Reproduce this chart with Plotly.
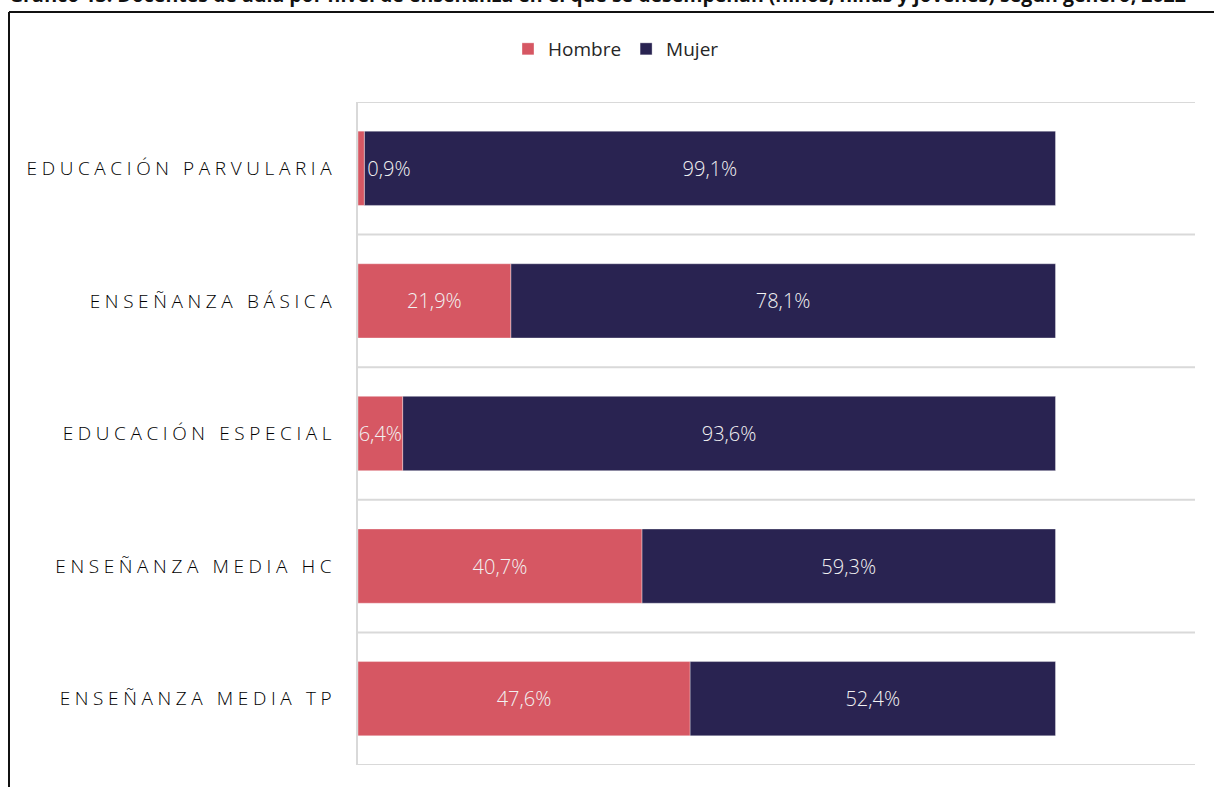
import plotly.graph_objects as go

# ---- data ----
categories = [
    "EDUCACIÓN PARVULARIA",
    "ENSEÑANZA BÁSICA",
    "EDUCACIÓN ESPECIAL",
    "ENSEÑANZA MEDIA HC",
    "ENSEÑANZA MEDIA TP",
]
hombre = [0.9, 21.9, 6.4, 40.7, 47.6]
mujer = [99.1, 78.1, 93.6, 59.3, 52.4]
series_names = ["Hombre", "Mujer"]
title_text = ("Gráfico 13: Docentes de aula por nivel de enseñanza en el que se desempeñan "
              "(niños, niñas y jóvenes) según género, 2022")


def fmt(v):
    return f"{v:.1f}".replace(".", ",") + "%"


W, H = 1214, 787
L, R, T, B = 358, 19, 102, 22
PW, PH = W - L - R, H - T - B


def px_x(p):
    return (p - L) / PW


def px_y(p):
    return (H - B - p) / PH


C_H = "#D65763"
C_M = "#292351"
LABEL_FONT = "Open Sans"

fig = go.Figure()

# Mujer first (drawn underneath), starting where Hombre ends
fig.add_trace(go.Bar(
    y=categories, x=mujer, base=hombre, orientation="h",
    name=series_names[1], marker=dict(color=C_M, line=dict(color="rgba(255,255,255,0.35)", width=1)),
    width=0.56, text=[fmt(v) for v in mujer], textposition="inside", textangle=0,
    insidetextanchor="middle", constraintext="none",
    textfont=dict(color="#F2F2F2", size=20, family=LABEL_FONT, weight=300),
    legendrank=2, hoverinfo="skip",
))
fig.add_trace(go.Bar(
    y=categories, x=hombre, base=[0] * len(hombre), orientation="h",
    name=series_names[0], marker=dict(color=C_H, line=dict(color="rgba(255,255,255,0.35)", width=1)),
    width=0.56, text=[fmt(v) for v in hombre], textangle=0,
    textposition=["outside" if v < 3 else "inside" for v in hombre],
    insidetextanchor="middle", constraintext="none", cliponaxis=False,
    textfont=dict(color="#F2F2F2", size=20, family=LABEL_FONT, weight=300),
    outsidetextfont=dict(color="#F2F2F2", size=20, family=LABEL_FONT, weight=300),
    legendrank=1, hoverinfo="skip",
))

shapes = []
# category boundary lines
for i in range(len(categories) + 1):
    shapes.append(dict(type="line", xref="paper", yref="y", x0=0, x1=1,
                       y0=i - 0.5, y1=i - 0.5, line=dict(color="#D9D9D9", width=2), layer="below"))
# outer frame (black)
shapes.append(dict(type="line", xref="paper", yref="paper", x0=px_x(9), x1=px_x(9),
                   y0=px_y(12), y1=px_y(800), line=dict(color="#111111", width=2)))
shapes.append(dict(type="line", xref="paper", yref="paper", x0=px_x(9), x1=px_x(1230),
                   y0=px_y(12), y1=px_y(12), line=dict(color="#111111", width=2)))

fig.update_layout(
    width=W, height=H,
    margin=dict(l=L, r=R, t=T, b=B, pad=0),
    paper_bgcolor="white", plot_bgcolor="white",
    barmode="overlay",
    bargap=0.44,
    uniformtext=dict(minsize=20, mode="show"),
    showlegend=True,
    legend=dict(orientation="h", x=px_x(616), xanchor="center", y=px_y(49), yanchor="middle",
                font=dict(family=LABEL_FONT, size=19, color="#262626"),
                itemwidth=30, tracegroupgap=0, itemclick=False),
    xaxis=dict(range=[0, 120], showgrid=False, zeroline=False, showticklabels=False,
               showline=False, fixedrange=True),
    yaxis=dict(type="category", categoryorder="array", categoryarray=categories,
               range=[len(categories) - 0.5, -0.5], showgrid=False, zeroline=False,
               showline=True, linecolor="#D9D9D9", linewidth=2,
               ticks="", ticklabelstandoff=16,
               tickfont=dict(family=LABEL_FONT, size=19, color="#000000", weight=300),
               fixedrange=True),
    shapes=shapes,
    annotations=[dict(text="<b>" + title_text + "</b>", xref="paper", yref="paper",
                      x=px_x(7), xanchor="left", y=px_y(10), yanchor="bottom",
                      showarrow=False, font=dict(family=LABEL_FONT, size=19.5, color="#111111"))],
)

post = """
document.body.style.margin='0';
document.querySelectorAll('.ytick text').forEach(function(t){t.style.letterSpacing='4.6px';});
"""

fig.write_html("out.html", config={"displayModeBar": False}, post_script=post)
